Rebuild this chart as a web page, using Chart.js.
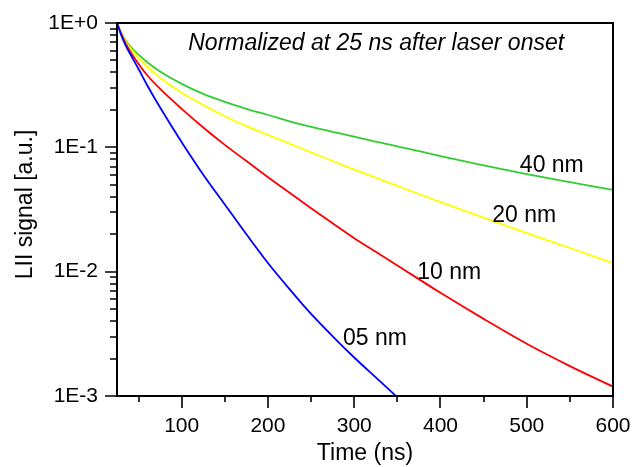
<!DOCTYPE html>
<html>
<head>
<meta charset="utf-8">
<script src="https://cdn.jsdelivr.net/npm/chart.js@4.4.1/dist/chart.umd.min.js"></script>
<style>
  html, body { margin: 0; padding: 0; background: #fff; }
</style>
</head>
<body>
<canvas id="chart" width="632" height="467"></canvas>
<script>
// time after laser onset (ns)
const times = [25, 30, 35, 40, 50, 60, 75, 100, 125, 150, 175, 200, 225, 250, 275, 300, 325, 350, 400, 450, 500, 550, 600];

// normalized LII signal
const signal05 = [1, 0.794, 0.661, 0.569, 0.427, 0.316, 0.209, 0.110, 0.0603, 0.0347, 0.0200, 0.01175, 0.00724, 0.00457, 0.00302, 0.00204, 0.00141, 0.000977];
const signal10 = [1, 0.813, 0.684, 0.596, 0.468, 0.380, 0.295, 0.204, 0.1445, 0.1047, 0.0776, 0.0575, 0.0432, 0.0324, 0.0245, 0.0186, 0.01445, 0.01122, 0.00676, 0.00417, 0.00263, 0.00174, 0.00119];
const signal20 = [1, 0.822, 0.708, 0.631, 0.525, 0.447, 0.363, 0.275, 0.219, 0.178, 0.148, 0.126, 0.107, 0.0912, 0.0776, 0.0661, 0.0569, 0.0490, 0.0363, 0.0272, 0.0204, 0.0155, 0.0117];
const signal40 = [1, 0.832, 0.724, 0.653, 0.556, 0.484, 0.407, 0.324, 0.269, 0.232, 0.204, 0.182, 0.162, 0.146, 0.133, 0.122, 0.111, 0.102, 0.0851, 0.0716, 0.0610, 0.0525, 0.0454];

const seriesNames = ['05 nm', '10 nm', '20 nm', '40 nm'];
const seriesColors = ['#0000ff', '#ff0000', '#ffff00', '#33cc33'];

// where the curve labels sit (data coordinates, text left/baseline)
const labelTimes = [287, 373, 460, 492];
const labelValues = [0.00257, 0.0087, 0.0251, 0.0633];

const xTicks = [100, 200, 300, 400, 500, 600];
const xMinorTicks = [50, 150, 250, 350, 450, 550];
const yTicks = [0.001, 0.01, 0.1, 1];
const yTickLabels = ['1E-3', '1E-2', '1E-1', '1E+0'];

const note = 'Normalized at 25 ns after laser onset';
const noteAt = [107.6, 0.607];

const FONT = '"Liberation Sans", Arial, Helvetica, sans-serif';

function toPoints(vals) {
    return vals.map((v, i) => ({ x: times[i], y: v }));
}

const allSeries = [signal05, signal10, signal20, signal40];

const frame = {
    id: 'frame',
    afterDraw(chart) {
        const ctx = chart.ctx;
        const a = chart.chartArea;
        const xs = chart.scales.x;
        const ys = chart.scales.y;
        ctx.save();
        ctx.strokeStyle = '#000';
        ctx.lineWidth = 2;
        ctx.strokeRect(a.left, a.top, a.right - a.left, a.bottom - a.top);

        // tick marks, outward
        ctx.lineWidth = 1.6;
        ctx.beginPath();
        xTicks.forEach(t => {
            const px = Math.round(xs.getPixelForValue(t));
            ctx.moveTo(px, a.bottom); ctx.lineTo(px, a.bottom + 12);
        });
        xMinorTicks.forEach(t => {
            const px = Math.round(xs.getPixelForValue(t));
            ctx.moveTo(px, a.bottom); ctx.lineTo(px, a.bottom + 6);
        });
        yTicks.forEach(v => {
            const py = Math.round(ys.getPixelForValue(v));
            ctx.moveTo(a.left, py); ctx.lineTo(a.left - 12, py);
            if (v < 1) {
                for (let k = 2; k <= 9; k++) {
                    const my = Math.round(ys.getPixelForValue(v * k));
                    ctx.moveTo(a.left, my); ctx.lineTo(a.left - 7, my);
                }
            }
        });
        ctx.stroke();

        // curve labels
        ctx.fillStyle = '#000';
        ctx.textBaseline = 'alphabetic';
        ctx.textAlign = 'left';
        ctx.font = '23px ' + FONT;
        seriesNames.forEach((name, i) => {
            ctx.fillText(name, xs.getPixelForValue(labelTimes[i]), ys.getPixelForValue(labelValues[i]));
        });
        ctx.font = 'italic 23px ' + FONT;
        ctx.fillText(note, xs.getPixelForValue(noteAt[0]), ys.getPixelForValue(noteAt[1]));

        // y axis title
        ctx.font = '23px ' + FONT;
        ctx.textAlign = 'center';
        ctx.textBaseline = 'middle';
        ctx.translate(a.left - 91, (a.top + a.bottom) / 2 - 5);
        ctx.rotate(-Math.PI / 2);
        ctx.fillText('LII signal [a.u.]', 0, 0);
        ctx.restore();
    }
};

const ctx = document.getElementById('chart').getContext('2d');
new Chart(ctx, {
    type: 'line',
    data: {
        datasets: allSeries.map((s, i) => ({
            label: seriesNames[i],
            data: toPoints(s),
            borderColor: seriesColors[i],
            borderWidth: 1.8,
            pointRadius: 0,
            fill: false,
            cubicInterpolationMode: 'monotone'
        }))
    },
    options: {
        responsive: false,
        animation: false,
        layout: { padding: { left: 0, top: 23, right: 19, bottom: 0 } },
        plugins: {
            legend: { display: false },
            tooltip: { enabled: false }
        },
        scales: {
            x: {
                type: 'linear',
                min: 25,
                max: 600,
                // tick marks are drawn by the plugin; tickLength only spaces the labels
                grid: { display: false, drawTicks: true, tickLength: 18 },
                border: { display: false },
                afterBuildTicks: scale => { scale.ticks = xTicks.map(v => ({ value: v })); },
                afterFit: scale => { scale.height = 71; },
                ticks: {
                    autoSkip: false,
                    maxRotation: 0,
                    padding: 0,
                    color: '#000',
                    font: { family: FONT, size: 21 }
                },
                title: {
                    display: true,
                    text: 'Time (ns)',
                    color: '#000',
                    font: { family: FONT, size: 23 },
                    padding: { top: 3, bottom: 0 }
                }
            },
            y: {
                type: 'logarithmic',
                min: 0.001,
                max: 1,
                grid: { display: false, drawTicks: true, tickLength: 19 },
                border: { display: false },
                afterBuildTicks: scale => { scale.ticks = yTicks.map(v => ({ value: v })); },
                afterFit: scale => { scale.width = 117; },
                ticks: {
                    autoSkip: false,
                    padding: 0,
                    color: '#000',
                    font: { family: FONT, size: 21 },
                    callback: v => yTickLabels[yTicks.indexOf(v)]
                }
            }
        }
    },
    plugins: [frame]
});
</script>
</body>
</html>
